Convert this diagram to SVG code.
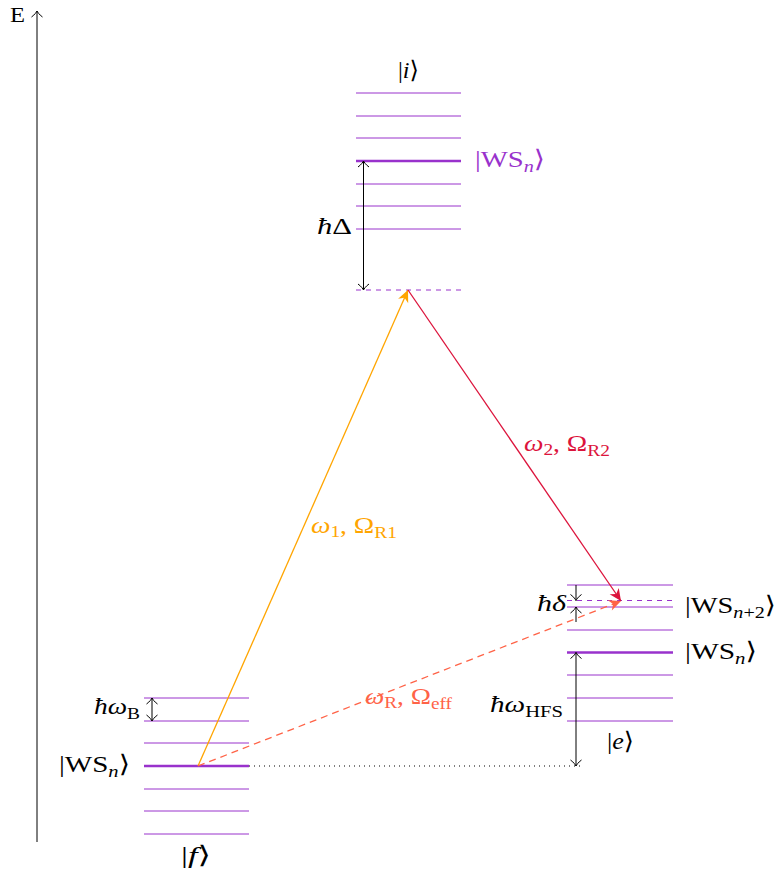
<svg xmlns="http://www.w3.org/2000/svg" width="781" height="877" viewBox="0 0 781 877">
<style>
text{font-family:"Liberation Serif","DejaVu Serif",serif;font-size:24px;fill:#000}
.m{font-style:italic}
.s{font-size:17px}
.lvl{stroke:#9932cc;stroke-width:1;fill:none}
.thick{stroke:#9932cc;stroke-width:2.6;fill:none}
.dash{stroke:#9932cc;stroke-width:1;stroke-dasharray:5,5;fill:none}
.blk{stroke:#000;stroke-width:1;fill:none}
</style>
<defs>
<marker id="to" markerUnits="userSpaceOnUse" markerWidth="14" markerHeight="14" refX="0" refY="0" viewBox="-8 -7 10 14" orient="auto-start-reverse">
<path d="M-6,-5.5 C-3.5,-2 -1,-0.6 0,0 C-1,0.6 -3.5,2 -6,5.5" fill="none" stroke="#000" stroke-width="1"/>
</marker>
<marker id="stO" markerUnits="userSpaceOnUse" markerWidth="16" markerHeight="16" refX="0" refY="0" viewBox="-13 -8 15 16" orient="auto">
<path d="M0,0 L-12,-5.5 L-8.5,0 L-12,5.5 Z" fill="#ffa500"/>
</marker>
<marker id="stC" markerUnits="userSpaceOnUse" markerWidth="16" markerHeight="16" refX="0" refY="0" viewBox="-13 -8 15 16" orient="auto">
<path d="M0,0 L-12,-5.5 L-8.5,0 L-12,5.5 Z" fill="#dc143c"/>
</marker>
<marker id="stT" markerUnits="userSpaceOnUse" markerWidth="16" markerHeight="16" refX="0" refY="0" viewBox="-13 -8 15 16" orient="auto">
<path d="M0,0 L-12,-5.5 L-8.5,0 L-12,5.5 Z" fill="#ff6347"/>
</marker>
</defs>

<g id="axis">
<line class="blk" x1="37" y1="842" x2="37" y2="11" marker-end="url(#to)"/>
<text x="10" y="22" textLength="15" lengthAdjust="spacingAndGlyphs" style="font-size:20px">E</text>
</g>

<g id="state-i">
<line class="lvl" x1="356" y1="93" x2="461" y2="93"/>
<line class="lvl" x1="356" y1="116" x2="461" y2="116"/>
<line class="lvl" x1="356" y1="138" x2="461" y2="138"/>
<line class="thick" x1="356" y1="161" x2="461" y2="161"/>
<line class="lvl" x1="356" y1="184" x2="461" y2="184"/>
<line class="lvl" x1="356" y1="206" x2="461" y2="206"/>
<line class="lvl" x1="356" y1="229" x2="461" y2="229"/>
<line class="dash" x1="356" y1="290" x2="461" y2="290"/>
<text x="398" y="78" textLength="21" lengthAdjust="spacingAndGlyphs">|<tspan class="m">i</tspan>⟩</text>
<text x="475" y="167" textLength="70" lengthAdjust="spacingAndGlyphs" style="fill:#9932cc">|WS<tspan class="m s" dy="5">n</tspan><tspan dy="-5">⟩</tspan></text>
<line class="blk" x1="363.5" y1="161" x2="363.5" y2="290" marker-start="url(#to)" marker-end="url(#to)"/>
<text x="317" y="234" textLength="35" lengthAdjust="spacingAndGlyphs"><tspan class="m">ħ</tspan>Δ</text>
</g>

<g id="state-f">
<line class="lvl" x1="144" y1="698" x2="249" y2="698"/>
<line class="lvl" x1="144" y1="721" x2="249" y2="721"/>
<line class="lvl" x1="144" y1="743" x2="249" y2="743"/>
<line class="thick" x1="144" y1="766" x2="249" y2="766"/>
<line class="lvl" x1="144" y1="789" x2="249" y2="789"/>
<line class="lvl" x1="144" y1="811" x2="249" y2="811"/>
<line class="lvl" x1="144" y1="834" x2="249" y2="834"/>
<text x="181" y="863" textLength="30" lengthAdjust="spacingAndGlyphs">|<tspan class="m">f</tspan>⟩</text>
<text x="59" y="772" textLength="71" lengthAdjust="spacingAndGlyphs">|WS<tspan class="m s" dy="5">n</tspan><tspan dy="-5">⟩</tspan></text>
<line class="blk" x1="152" y1="698" x2="152" y2="721" marker-start="url(#to)" marker-end="url(#to)"/>
<text x="94" y="714" textLength="46" lengthAdjust="spacingAndGlyphs"><tspan class="m">ħω</tspan><tspan class="s" dy="5">B</tspan></text>
</g>

<g id="state-e">
<line class="lvl" x1="567" y1="585" x2="673" y2="585"/>
<line class="dash" x1="567" y1="600.5" x2="673" y2="600.5"/>
<line class="lvl" x1="567" y1="607" x2="673" y2="607"/>
<line class="lvl" x1="567" y1="630" x2="673" y2="630"/>
<line class="thick" x1="567" y1="652.5" x2="673" y2="652.5"/>
<line class="lvl" x1="567" y1="675" x2="673" y2="675"/>
<line class="lvl" x1="567" y1="698" x2="673" y2="698"/>
<line class="lvl" x1="567" y1="721" x2="673" y2="721"/>
<text x="685" y="613" textLength="91" lengthAdjust="spacingAndGlyphs">|WS<tspan class="m s" dy="5">n</tspan><tspan class="s">+2</tspan><tspan dy="-5">⟩</tspan></text>
<text x="685" y="658.5" textLength="72" lengthAdjust="spacingAndGlyphs">|WS<tspan class="m s" dy="5">n</tspan><tspan dy="-5">⟩</tspan></text>
<text x="607" y="749" textLength="27" lengthAdjust="spacingAndGlyphs">|<tspan class="m">e</tspan>⟩</text>
<line class="blk" x1="576" y1="585" x2="576" y2="600.5" marker-end="url(#to)"/>
<line class="blk" x1="576" y1="622" x2="576" y2="607" marker-end="url(#to)"/>
<text x="537" y="611" textLength="29" lengthAdjust="spacingAndGlyphs"><tspan class="m">ħδ</tspan></text>
<line class="blk" x1="576" y1="652.5" x2="576" y2="766" marker-start="url(#to)" marker-end="url(#to)"/>
<text x="490" y="712" textLength="73" lengthAdjust="spacingAndGlyphs"><tspan class="m">ħω</tspan><tspan class="s" dy="5">HFS</tspan></text>
</g>

<g id="connectors">
<line x1="249" y1="766" x2="582" y2="766" stroke="#000" stroke-width="1" stroke-dasharray="1,4"/>
<line x1="198" y1="766" x2="408" y2="290" stroke="#ffa500" stroke-width="1.3" marker-end="url(#stO)"/>
<line x1="408" y1="290" x2="621" y2="601" stroke="#dc143c" stroke-width="1.3" marker-end="url(#stC)"/>
<line x1="198" y1="766" x2="621" y2="601" stroke="#ff6347" stroke-width="1.3" stroke-dasharray="7,5" marker-end="url(#stT)"/>
<text x="311" y="533" textLength="86" lengthAdjust="spacingAndGlyphs" style="fill:#ffa500"><tspan class="m">ω</tspan><tspan class="s" dy="4">1</tspan><tspan dy="-4">, Ω</tspan><tspan class="s" dy="5">R1</tspan></text>
<text x="524" y="451" textLength="86" lengthAdjust="spacingAndGlyphs" style="fill:#dc143c"><tspan class="m">ω</tspan><tspan class="s" dy="4">2</tspan><tspan dy="-4">, Ω</tspan><tspan class="s" dy="5">R2</tspan></text>
<text x="365" y="704" textLength="87" lengthAdjust="spacingAndGlyphs" style="fill:#ff6347"><tspan class="m">ω</tspan><tspan class="s" dy="4">R</tspan><tspan dy="-4">, Ω</tspan><tspan class="s" dy="5">eff</tspan></text>
</g>
</svg>
